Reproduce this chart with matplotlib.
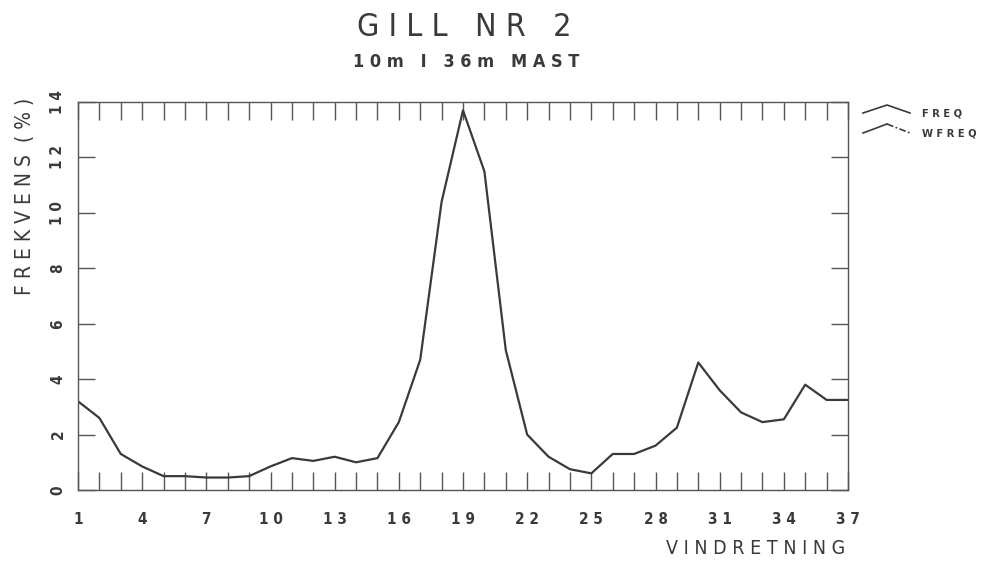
import matplotlib
matplotlib.use("Agg")
import matplotlib.pyplot as plt
from matplotlib.lines import Line2D
from matplotlib import font_manager as fm

directions = [1, 2, 3, 4, 5, 6, 7, 8, 9, 10, 11, 12, 13, 14, 15, 16, 17, 18, 19,
              20, 21, 22, 23, 24, 25, 26, 27, 28, 29, 30, 31, 32, 33, 34, 35, 36, 37]
freq = [3.2, 2.6, 1.3, 0.85, 0.5, 0.5, 0.45, 0.45, 0.5, 0.85, 1.15, 1.05, 1.2, 1.0,
        1.15, 2.45, 4.7, 10.4, 13.7, 11.5, 5.05, 2.0, 1.2, 0.75, 0.6, 1.3, 1.3, 1.6,
        2.25, 4.6, 3.6, 2.8, 2.45, 2.55, 3.8, 3.25, 3.25]
xtick_labels = ['1', '4', '7', '10', '13', '16', '19', '22', '25', '28', '31', '34', '37']
ytick_vals = [0, 2, 4, 6, 8, 10, 12, 14]


def pick_font(bold):
    want = 700 if bold else 400
    best = None
    for f in fm.fontManager.ttflist:
        nm = f.name
        if 'CJK' in nm or 'Mono' in nm or 'Serif' in nm or f.style != 'normal':
            continue
        cond = ('Narrow' in nm or 'Condensed' in nm or
                str(f.stretch) in ('condensed', 'semi-condensed', 'extra-condensed') or
                (isinstance(f.stretch, int) and f.stretch < 500))
        if not cond:
            continue
        w = f.weight if isinstance(f.weight, int) else (700 if 'bold' in str(f.weight) else 400)
        score = abs(w - want) + (0 if 'Liberation' in nm else 50)
        if best is None or score < best[0]:
            best = (score, f.fname)
    if best is not None:
        return fm.FontProperties(fname=best[1])
    return fm.FontProperties(family='Roboto', weight='bold' if bold else 'normal')


FP = pick_font(False)
FPB = pick_font(True)

def fp(size, bold=False):
    p = (FPB if bold else FP).copy()
    p.set_size(size)
    return p

def spaced(s):
    return ' '.join(s)

ink = '#3a3a3a'
fig = plt.figure(figsize=(9.86, 5.62), dpi=100)
ax = fig.add_axes([78/986, 1-490/562, 770/986, 388/562])
ax.plot(directions, freq, color=ink, lw=1.6)
ax.set_xlim(1, 37)
ax.set_ylim(0, 14)

for s in ax.spines.values():
    s.set_color('#555555')
    s.set_linewidth(1.0)

ax.set_xticks(directions)
ax.set_xticklabels([spaced(str(d)) if str(d) in xtick_labels else '' for d in directions],
                   fontproperties=fp(11, True), color=ink)
ax.set_yticks(ytick_vals)
ax.set_yticklabels([spaced(str(v)) for v in ytick_vals], rotation=90, va='center',
                   fontproperties=fp(11, True), color=ink)
ax.tick_params(axis='x', direction='in', length=13, width=1.0, color='#555555',
               top=True, bottom=True, pad=16)
ax.tick_params(axis='y', direction='in', length=12, width=1.0, color='#555555',
               left=True, right=True, pad=9)

fig.text(464/986, 1-27/562, spaced('GILL') + '   ' + spaced('NR') + '   2',
         ha='center', va='center', fontproperties=fp(23), color=ink)
fig.text(466/986, 1-62/562, '1 0 m   I   3 6 m   M A S T',
         ha='center', va='center', fontproperties=fp(13, True), color=ink)
fig.text(845/986, 1-549/562, spaced('VINDRETNING'), ha='right', va='center',
         fontproperties=fp(14), color=ink)
fig.text(25/986, 1-196/562, spaced('FREKVENS') + '  ( % )', ha='center', va='center',
         rotation=90, fontproperties=fp(15), color=ink)

# legend
fig.add_artist(Line2D([863/986, 887/986, 910/986], [1-113/562, 1-105/562, 1-113/562],
                      color=ink, lw=1.2, transform=fig.transFigure))
fig.add_artist(Line2D([863/986, 887/986], [1-133/562, 1-124/562],
                      color=ink, lw=1.2, transform=fig.transFigure))
fig.add_artist(Line2D([887/986, 910/986], [1-124/562, 1-133/562],
                      color=ink, lw=1.2, ls=(0, (4, 1.5, 1, 1.5)), transform=fig.transFigure))
fig.text(922/986, 1-113/562, spaced('FREQ'), ha='left', va='center',
         fontproperties=fp(8, True), color=ink)
fig.text(922/986, 1-134/562, spaced('WFREQ'), ha='left', va='center',
         fontproperties=fp(8, True), color=ink)

fig.savefig('out.png', dpi=100, facecolor='white')
